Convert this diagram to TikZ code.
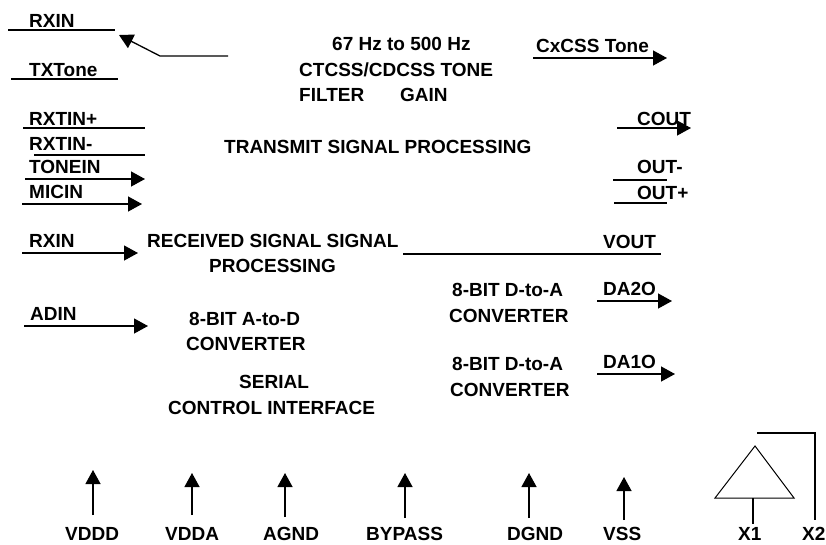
\documentclass[tikz,border=0pt]{standalone}
\usetikzlibrary{arrows.meta}
\usepackage{fontspec}
\setmainfont{Liberation Sans}
\begin{document}
\begin{tikzpicture}[x=1pt,y=-1pt,
  lbl/.style={anchor=base west,inner sep=0pt,font=\fontsize{19}{22}\selectfont\bfseries},
  wire/.style={draw=black,line width=1.3pt},
  arrowwire/.style={wire,-{Triangle[length=14pt,width=15pt]}},
  thin wire/.style={draw=black,line width=1pt}]
\useasboundingbox (0,0) rectangle (826,544);
\foreach \n/\x/\y/\t in {
 l1/29/27/RXIN, l2/29/76/TXTone, l3/29/125/RXTIN+, l4/29/150/RXTIN-, l5/29/173/TONEIN, l6/29/198/MICIN,
 l7/29/247/RXIN, l8/30/320/ADIN, l9/536/52/CxCSS Tone, l10/637/125/COUT, l11/637/173/OUT-, l12/637/199/OUT+,
 l13/603/248/VOUT, l14/603/295/DA2O, l15/603/368/DA1O,
 c1/332/50/67 Hz to 500 Hz, c2/299/76/{CTCSS/CDCSS TONE}, c3/299/101/FILTER, c4/400/101/GAIN,
 c5/224/153/TRANSMIT SIGNAL PROCESSING, c6/147/247/RECEIVED SIGNAL SIGNAL, c7/209/272/PROCESSING,
 c8/189/325/8-BIT A-to-D, c9/186/350/CONVERTER, c10/239/388/SERIAL, c11/168/414/CONTROL INTERFACE,
 c12/452/296/8-BIT D-to-A, c13/449/322/CONVERTER, c14/452/370/8-BIT D-to-A, c15/450/396/CONVERTER,
 b1/65/540/VDDD, b2/165/540/VDDA, b3/263/540/AGND, b4/366/540/BYPASS, b5/507/540/DGND, b6/603/540/VSS, b7/738/540/X1, b8/802/540/X2}
 {\node[lbl] (\n) at (\x,\y) {\t};}
% plain lines
\foreach \n/\xa/\ya/\xb/\yb in {
 p1/8/30/115/30, p2/11/79/118/79, p3/23/128/145/128, p4/34/155/145/155,
 p5/613/180/667/180, p6/614/203/667/203, p7/403/254/661/254}
 {\coordinate (\n a) at (\xa,\ya); \coordinate (\n b) at (\xb,\yb); \draw[wire] (\n a) -- (\n b);}
% arrows
\foreach \n/\xa/\ya/\xb/\yb in {
 a1/25/179/145/179, a2/22/204/142/204, a3/22/253/138/253, a4/24/326/148/326,
 a5/533/58/667/58, a6/617/128/691/128, a7/597/301/672/301, a8/597/374/675/374,
 v1/93/515/93/470, v2/192/515/192/473, v3/285/517/285/473, v4/405/518/405/473,
 v5/529/518/529/473, v6/624/520/624/477}
 {\coordinate (\n a) at (\xa,\ya); \coordinate (\n b) at (\xb,\yb); \draw[arrowwire] (\n a) -- (\n b);}
% bent arrow
\coordinate (fb1) at (228,56); \coordinate (fb2) at (160,56); \coordinate (fb3) at (119,35);
\draw[arrowwire] (fb1) -- (fb2) -- (fb3);
% crystal
\coordinate (ta) at (755,446); \coordinate (tl) at (715,498); \coordinate (tr) at (794,498);
\coordinate (x1s) at (753,498); \coordinate (x1e) at (753,524);
\coordinate (x2a) at (757,433); \coordinate (x2b) at (815,433); \coordinate (x2c) at (815,520);
\draw[thin wire] (ta) -- (tl) -- (tr) -- cycle;
\draw[wire] (x1s) -- (x1e);
\draw[wire] (x2a) -- (x2b) -- (x2c);
\end{tikzpicture}
\end{document}
